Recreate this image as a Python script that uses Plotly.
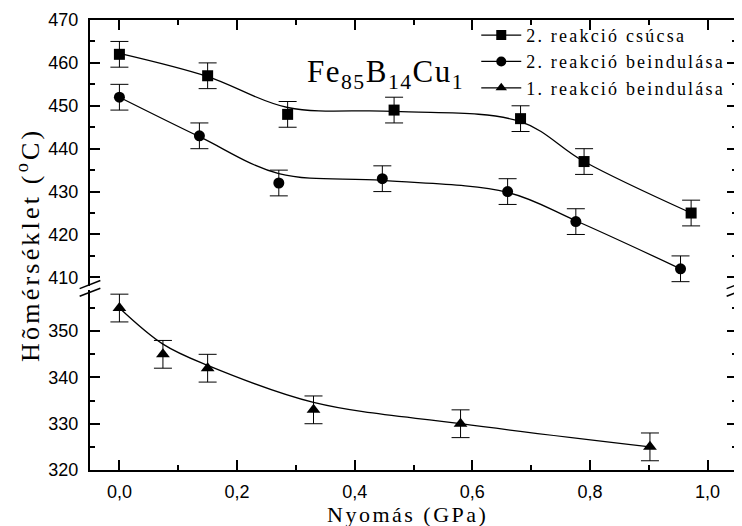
import plotly.graph_objects as go

# ---- data ----
x_sq = [0.0, 0.15, 0.286, 0.467, 0.682, 0.79, 0.972]
y_sq = [462, 457, 448, 449, 447, 437, 425]
fit_sq = [462.2, 456.8, 449.6, 448.7, 446.3, 437.0, 425.0]

x_ci = [0.0, 0.136, 0.271, 0.447, 0.66, 0.776, 0.954]
y_ci = [452, 443, 432, 433, 430, 423, 412]
fit_ci = [452.0, 442.8, 434.2, 432.6, 429.8, 423.2, 412.0]

x_tr = [0.0, 0.074, 0.15, 0.33, 0.58, 0.902]
y_tr = [355, 345, 342, 333, 330, 325]
fit_tr = [355.0, 347.2, 342.6, 334.6, 330.0, 325.0]

err = 3
names = ["2. reakció csúcsa", "2. reakció beindulása", "1. reakció beindulása"]
symbols = ["square", "circle", "triangle-up"]

SERIF = "Liberation Serif"
SANS = "Liberation Sans"


def spaced(txt, px):
    return f'<span style="letter-spacing:{px}px">{txt}</span>'


fig = go.Figure()

series = [
    (x_sq, y_sq, fit_sq, "y"),
    (x_ci, y_ci, fit_ci, "y"),
    (x_tr, y_tr, fit_tr, "y2"),
]

for i, (xs, ys, fit, ax) in enumerate(series):
    fig.add_trace(go.Scatter(
        x=xs, y=fit, mode="lines", xaxis="x", yaxis=ax,
        line=dict(color="black", width=1.3, shape="spline", smoothing=1.0),
        showlegend=False, hoverinfo="skip"))
    fig.add_trace(go.Scatter(
        x=xs, y=ys, mode="markers", xaxis="x", yaxis=ax,
        marker=dict(symbol=symbols[i], size=11 if i < 2 else 12, color="black"),
        error_y=dict(type="constant", value=err, color="black", thickness=1, width=9),
        showlegend=False))

for i in range(3):
    fig.add_trace(go.Scatter(
        x=[None], y=[None], mode="lines+markers", name=spaced(names[i], 2.2),
        xaxis="x", yaxis="y",
        line=dict(color="black", width=1.3),
        marker=dict(symbol=symbols[i], size=10, color="black")))

# invisible trace so the top mirror axis exists
fig.add_trace(go.Scatter(x=[None], y=[None], xaxis="x2", yaxis="y",
                         showlegend=False, hoverinfo="skip"))

axis_common = dict(
    showline=True, linewidth=2, linecolor="black",
    ticks="inside", ticklen=10, tickwidth=1.5, tickcolor="black",
    showgrid=False, zeroline=False, automargin=False,
    tickfont=dict(family=SANS, size=18, color="black"),
)
xminor = dict(dtick=0.1, ticks="inside", ticklen=5, tickwidth=1.5, tickcolor="black")
yminor = dict(dtick=5, ticks="inside", ticklen=5, tickwidth=1.5, tickcolor="black")

# the page body adds an 8px margin, so the figure is sized to the visible area
fig.update_layout(
    width=734, height=518,
    margin=dict(l=82, r=5, t=12, b=56),
    paper_bgcolor="white", plot_bgcolor="white",
    separators=", ",
    xaxis=dict(
        range=[-0.05, 1.05], tick0=0, dtick=0.2, tickformat=".1f",
        anchor="y2", minor=xminor, ticklabelstandoff=4,
        **axis_common),
    xaxis2=dict(
        range=[-0.05, 1.05], tick0=0, dtick=0.2, anchor="y", overlaying="x",
        side="top", showticklabels=False, minor=xminor,
        **axis_common),
    yaxis=dict(
        domain=[0.409, 1.0], range=[408, 470], tick0=0, dtick=10, anchor="x",
        mirror="ticks", minor=yminor, ticklabelstandoff=6,
        **axis_common),
    yaxis2=dict(
        domain=[0.0, 0.4], range=[320, 358.9], tick0=0, dtick=10, anchor="x",
        mirror="ticks", minor=yminor, ticklabelstandoff=6,
        **axis_common),
    legend=dict(
        x=0.597, y=1.007, xanchor="left", yanchor="top",
        font=dict(family=SERIF, size=18, color="black"),
        bgcolor="rgba(0,0,0,0)", traceorder="normal",
        itemwidth=40),
    showlegend=True,
)

fig.add_annotation(
    text=spaced("Nyomás (GPa)", 2.5),
    xref="paper", yref="paper", x=0.49, y=-0.098, xanchor="center", yanchor="middle",
    showarrow=False, font=dict(family=SERIF, size=22, color="black"))

fig.add_annotation(
    text=spaced("Fe<sub>85</sub>B<sub>14</sub>Cu<sub>1</sub>", 1.5),
    xref="paper", yref="paper", x=0.333, y=0.879, xanchor="left", yanchor="middle",
    showarrow=False, font=dict(family=SERIF, size=31, color="black"))

fig.add_annotation(
    text=spaced("Hõmérséklet (<sup>o</sup>C)", 3.2),
    xref="paper", yref="paper", x=-0.096, y=0.5, xanchor="center", yanchor="middle",
    textangle=-90, showarrow=False, font=dict(family=SERIF, size=26, color="black"))

# axis-break marks on both vertical axes
for xc in (0.0, 1.0):
    for dy in (0.0, 0.017):
        fig.add_shape(type="line", xref="paper", yref="paper",
                      x0=xc - 0.016, x1=xc + 0.016,
                      y0=0.386 + dy, y1=0.404 + dy,
                      line=dict(color="black", width=1.5))

fig.write_html("out.html")
